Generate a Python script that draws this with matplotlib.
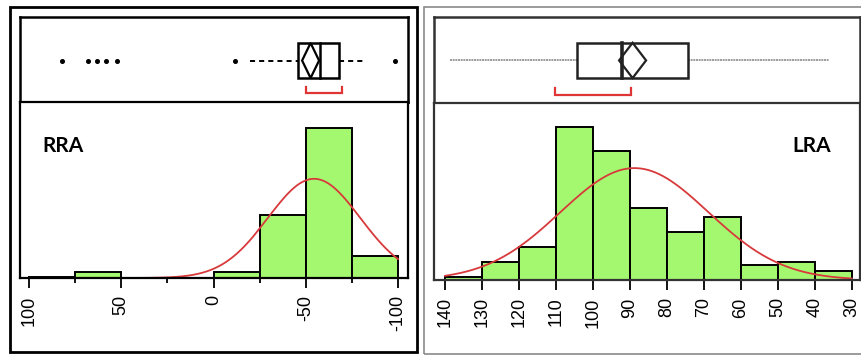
import numpy as np
import matplotlib.pyplot as plt
from matplotlib.patches import Rectangle, Polygon

# ---- RRA (left) ----
rra_edges = [100, 75, 50, 25, 0, -25, -50, -75, -100]
rra_counts = [1, 4, 0, 0, 4, 42, 100, 15]
rra_ticks = [100, 50, 0, -50, -100]
rra_minor = [75, 25, -25, -75]
rra_fit_mean, rra_fit_sd = -54.5, 25.0
rra_q75, rra_median, rra_q25 = -45.8, -57.7, -68.0
rra_mean, rra_mean_ci = -52.6, 4.6
rra_whisker_hi, rra_whisker_lo = -19.8, -81.0
rra_outliers = [82.1, 68.0, 63.1, 58.3, 52.3, -11.7, -98.4]
rra_shortest_half = (-50.1, -69.6)

# ---- LRA (right) ----
lra_edges = [140, 130, 120, 110, 100, 90, 80, 70, 60, 50, 40, 30]
lra_counts = [1, 6, 11, 51, 43, 24, 16, 21, 5, 6, 3]
lra_ticks = [140, 130, 120, 110, 100, 90, 80, 70, 60, 50, 40, 30]
lra_fit_mean, lra_fit_sd = 88.8, 20.0
lra_q75, lra_median, lra_q25 = 104.3, 92.2, 74.3
lra_mean, lra_mean_ci = 89.3, 3.65
lra_whisker_hi, lra_whisker_lo = 138.6, 36.2
lra_shortest_half = (110.3, 89.7)

W, H = 861, 355
BAR_GREEN = "#a4f870"
FIT_RED = "#d8393b"

plt.rcParams["font.family"] = ["Liberation Sans", "DejaVu Sans"]

fig = plt.figure(figsize=(W / 100, H / 100), dpi=100)


def px_axes(x0, y0, x1, y1):
    # axes placed by pixel box (origin top-left)
    return fig.add_axes([x0 / W, 1 - y1 / H, (x1 - x0) / W, (y1 - y0) / H])


def px_frame(x0, y0, x1, y1, color, lw):
    fig.patches.append(Rectangle((x0 / W, 1 - y1 / H), (x1 - x0) / W, (y1 - y0) / H,
                                 transform=fig.transFigure, fill=False,
                                 edgecolor=color, linewidth=lw))


def style_spines(ax, color, lw):
    for s in ax.spines.values():
        s.set_color(color)
        s.set_linewidth(lw)


def draw_hist(ax, edges, counts, fit_mean, fit_sd, xlim, ylim, ticks, spine_color):
    edges = np.asarray(edges, dtype=float)
    counts = np.asarray(counts, dtype=float)
    centers = (edges[:-1] + edges[1:]) / 2
    widths = np.abs(np.diff(edges))
    ax.bar(centers, counts, width=widths, color=BAR_GREEN, edgecolor="black",
           linewidth=1.4, zorder=1)
    # normal fit scaled to counts per bin
    n = counts.sum()
    bw = widths[0]
    xs = np.linspace(edges.min(), edges.max(), 400)
    ys = n * bw * np.exp(-0.5 * ((xs - fit_mean) / fit_sd) ** 2) / (fit_sd * np.sqrt(2 * np.pi))
    ax.plot(xs, ys, color=FIT_RED, lw=1.3, zorder=2)
    ax.set_xlim(*xlim)
    ax.set_ylim(*ylim)
    ax.set_yticks([])
    ax.set_xticks(ticks)
    ax.set_xticklabels([str(t) for t in ticks], rotation=90, fontsize=13)
    ax.tick_params(axis="x", direction="out", length=7.5, width=1.3, pad=5,
                   color="black")
    style_spines(ax, spine_color, 1.6)


def draw_box(ax, xlim, q_hi, med, q_lo, mean, ci, wh_hi, wh_lo, half, whisker_style,
             edge_color, median_lw, box_y, bracket_y):
    ax.set_xlim(*xlim)
    ax.set_ylim(0, 1)
    ax.set_xticks([])
    ax.set_yticks([])
    y0, y1 = box_y
    yc = (y0 + y1) / 2
    ax.plot([wh_hi, q_hi], [yc, yc], **whisker_style)
    ax.plot([q_lo, wh_lo], [yc, yc], **whisker_style)
    ax.add_patch(Rectangle((min(q_hi, q_lo), y0), abs(q_hi - q_lo), y1 - y0,
                           fill=False, edgecolor=edge_color, lw=1.8, zorder=3))
    ax.plot([med, med], [y0, y1], color=edge_color, lw=median_lw, zorder=3)
    # mean diamond
    ax.add_patch(Polygon([(mean - ci, yc), (mean, y1), (mean + ci, yc), (mean, y0)],
                         closed=True, fill=False, edgecolor=edge_color, lw=1.6, zorder=3))
    # shortest half bracket
    b0, b1 = bracket_y
    ax.plot([half[0], half[0], half[1], half[1]], [b1, b0, b0, b1],
            color="#e03535", lw=1.6, solid_joinstyle="miter")


# outer frames
px_frame(10, 7, 417, 352, "black", 2.0)
px_frame(424, 7, 866, 354, "#8a8a8a", 1.2)

# left panel
rra_xlim = (104.9, -105.4)
ax_lb = px_axes(20, 17, 408, 102)
draw_box(ax_lb, rra_xlim, rra_q75, rra_median, rra_q25, rra_mean, rra_mean_ci,
         rra_whisker_hi, rra_whisker_lo, rra_shortest_half,
         dict(color="black", lw=1.4, linestyle=(0, (2.6, 2.1))),
         "black", 1.8, (0.282, 0.694), (0.106, 0.176))
ax_lb.plot(rra_outliers, [0.488] * len(rra_outliers), "o", color="black",
           markersize=2.6, zorder=4)
style_spines(ax_lb, "black", 1.8)

ax_lh = px_axes(20, 102, 408, 278)
draw_hist(ax_lh, rra_edges, rra_counts, rra_fit_mean, rra_fit_sd, rra_xlim,
          (0, 117.5), rra_ticks, "black")
ax_lh.set_xticks(rra_minor, minor=True)
ax_lh.tick_params(axis="x", which="minor", direction="out", length=3.5, width=1.3)
fig.text(42 / W, 1 - 152 / H, "RRA", family=["Lato", "DejaVu Sans"],
         fontweight="bold", fontsize=15, ha="left", va="baseline")

# right panel
lra_xlim = (143.0, 27.8)
ax_rb = px_axes(434, 17, 860, 103)
draw_box(ax_rb, lra_xlim, lra_q75, lra_median, lra_q25, lra_mean, lra_mean_ci,
         lra_whisker_hi, lra_whisker_lo, lra_shortest_half,
         dict(color="#8c8c8c", lw=1.2, linestyle=(0, (1.2, 0.4))),
         "#222222", 2.6, (0.29, 0.70), (0.093, 0.174))
style_spines(ax_rb, "#333333", 1.8)

ax_rh = px_axes(434, 103, 860, 280)
draw_hist(ax_rh, lra_edges, lra_counts, lra_fit_mean, lra_fit_sd, lra_xlim,
          (0, 59), lra_ticks, "#333333")
fig.text(792 / W, 1 - 152 / H, "LRA", family=["Lato", "DejaVu Sans"],
         fontweight="bold", fontsize=15, ha="left", va="baseline")

fig.savefig("out.png", dpi=100)
